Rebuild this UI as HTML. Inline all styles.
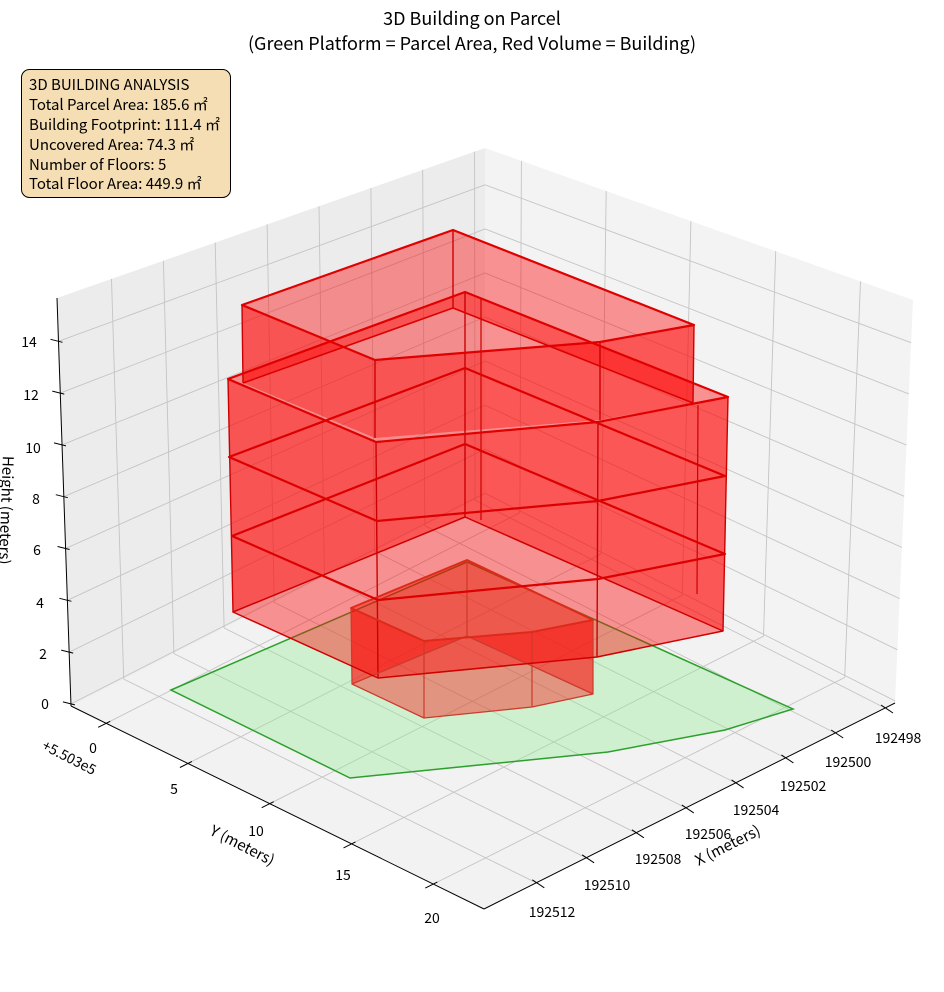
<!DOCTYPE html>
<html><head><meta charset="utf-8"><style>
body{margin:0;background:#fff;}
svg{display:block;font-family:"Noto Sans CJK JP","Liberation Sans",sans-serif;}
</style></head><body>
<svg id="s" width="944" height="992" viewBox="0 0 944 992" xmlns="http://www.w3.org/2000/svg">
<g id="panes"></g>
<g id="grid" stroke="#c4c4c4" stroke-width="0.9" fill="none"></g>
<g id="axes" stroke="#000" stroke-width="1" fill="none"></g>
<g id="labels" font-size="14" fill="#000"></g>
<g id="bld"></g>
<g id="rings"></g>
<text x="472" y="25" font-size="18" text-anchor="middle">3D Building on Parcel</text>
<text x="472" y="50" font-size="18" text-anchor="middle">(Green Platform = Parcel Area, Red Volume = Building)</text>
<rect x="21.5" y="69.5" width="209" height="128" rx="8" fill="#f5deb3" stroke="#000" stroke-width="1"/>
<g font-size="15" fill="#000">
<text x="29" y="90">3D BUILDING ANALYSIS</text>
<text x="29" y="110">Total Parcel Area: 185.6 ㎡</text>
<text x="29" y="130">Building Footprint: 111.4 ㎡</text>
<text x="29" y="150">Uncovered Area: 74.3 ㎡</text>
<text x="29" y="170">Number of Floors: 5</text>
<text x="29" y="189">Total Floor Area: 449.9 ㎡</text>
</g>
</svg>
<script>
const NS="http://www.w3.org/2000/svg";
function el(p,t,a,txt){const e=document.createElementNS(NS,t);for(const k in a)e.setAttribute(k,a[k]);if(txt!==undefined)e.textContent=txt;p.appendChild(e);return e;}
const Pb=[485,495],Pl=[71,706],Pr=[895,703],Pf=[484,909];
const Vb=[0,-347],Vl=[-14,-408],Vr=[18,-403],Vf=[0,-460];
function bil(A,B,C,D,a,b){return[0,1].map(i=>A[i]*(1-a)*(1-b)+B[i]*a*(1-b)+C[i]*(1-a)*b+D[i]*a*b);}
function P(a,b,c){const p=bil(Pb,Pl,Pr,Pf,a,b),v=bil(Vb,Vl,Vr,Vf,a,b);return[p[0]+c*v[0],p[1]+c*v[1]];}
const Xmin=192497.6,Xr=16.5,Ymin=-2.15,Yr=25.25,Zmin=-0.08,Zr=15.75;
const ax=x=>(x-Xmin)/Xr, by=y=>(y-Ymin)/Yr, cz=z=>(z-Zmin)/Zr;
const pts=a=>a.map(p=>p.map(v=>v.toFixed(1)).join(',')).join(' ');
const panes=document.getElementById('panes');
el(panes,'polygon',{points:pts([P(0,0,0),P(1,0,0),P(1,0,1),P(0,0,1)]),fill:'#ececec'});
el(panes,'polygon',{points:pts([P(0,0,0),P(0,1,0),P(0,1,1),P(0,0,1)]),fill:'#f3f3f3'});
el(panes,'polygon',{points:pts([P(0,0,0),P(1,0,0),P(1,1,0),P(0,1,0)]),fill:'#f2f2f2'});
const g=document.getElementById('grid');
function line(p,q,par){el(par||g,'line',{x1:p[0].toFixed(1),y1:p[1].toFixed(1),x2:q[0].toFixed(1),y2:q[1].toFixed(1)});}
const XT=[192498,192500,192502,192504,192506,192508,192510,192512],YT=[0,5,10,15,20],ZT=[0,2,4,6,8,10,12,14];
XT.forEach(x=>{const a=ax(x);line(P(a,0,0),P(a,1,0));line(P(a,0,0),P(a,0,1));});
YT.forEach(y=>{const b=by(y);line(P(0,b,0),P(1,b,0));line(P(0,b,0),P(0,b,1));});
ZT.forEach(z=>{const c=cz(z);line(P(0,0,c),P(1,0,c));line(P(0,0,c),P(0,1,c));});
const A=document.getElementById('axes');
line(P(1,0,0),P(1,1,0),A);line(P(0,1,0),P(1,1,0),A);line(P(1,0,0),P(1,0,1),A);
XT.forEach(x=>{const p=P(ax(x),1,0);line([p[0]-4,p[1]-3],[p[0]+8,p[1]+5],A);});
YT.forEach(y=>{const p=P(1,by(y),0);line([p[0]+4,p[1]-2],[p[0]-8,p[1]+4],A);});
ZT.forEach(z=>{const p=P(1,0,cz(z));line([p[0]+4,p[1]+1],[p[0]-8,p[1]-2],A);});
const L=document.getElementById('labels');
[[898,738],[848,762],[803,786],[756,810],[708,834],[658,859],[607,885],[552,912]].forEach((q,i)=>el(L,'text',{x:q[0],y:q[1]+5,'text-anchor':'middle'},XT[i]));
[[93,748],[174,789],[256,831],[343,875],[432,918]].forEach((q,i)=>el(L,'text',{x:q[0],y:q[1]+5,'text-anchor':'middle'},YT[i]));
[[45,704],[43,654],[40,603],[37,550],[36,499],[33,448],[31,395],[29,342]].forEach((q,i)=>el(L,'text',{x:q[0],y:q[1]+5,'text-anchor':'middle'},ZT[i]));
el(L,'text',{x:0,y:0,'font-size':15,'text-anchor':'middle',transform:'translate(240,850) rotate(27)'},'Y (meters)');
el(L,'text',{x:0,y:0,'font-size':15,'text-anchor':'middle',transform:'translate(730,850) rotate(-27)'},'X (meters)');
el(L,'text',{x:0,y:0,'font-size':15,'text-anchor':'middle',transform:'translate(1,510) rotate(92)'},'Height (meters)');
el(L,'text',{x:0,y:0,'font-size':14,'text-anchor':'middle',transform:'translate(67,762) rotate(27)'},'+5.503e5');

const B=document.getElementById('bld'),R=document.getElementById('rings');
el(B,'polygon',{points:'171,690 467,562 793,709 725,730 608,752 350,778',fill:'rgba(144,238,144,0.35)',stroke:'#2ca02c','stroke-width':1.5});
function prism(T,Bm,op,ec,ew){
  for(let i=0;i<5;i++){const j=(i+1)%5;el(B,'polygon',{points:pts([T[i],T[j],Bm[j],Bm[i]]),fill:'#ff0000','fill-opacity':op,stroke:'none'});}
  const gg=el(R,'g',{stroke:ec,'stroke-width':ew});
  for(let i=0;i<5;i++)line(T[i],Bm[i],gg);
}
function ring(V,c,w){el(R,'polygon',{points:pts(V),fill:'none',stroke:c,'stroke-width':w,'stroke-linejoin':'round'});}
const GT=[[351,608],[467,560],[593,620],[532,632],[424,641]],GB=[[352,684],[467,636],[593,694],[532,707],[424,718]];
prism(GT,GB,0.38,'#cc3b2b',1.2);
const l12=[[228,379],[465,292],[728,397],[598,422],[376,442]],l9=[[229,457],[465,368],[725,476],[598,501],[377,521]],
l6=[[232,536],[465,444],[725,554],[598,579],[378,600]],l3=[[233,612],[465,517],[723,631],[597,657],[378,678]];
prism(l12,l3,0.4,'#cc0000',1.4);
const t15=[[242,305],[453,230],[694,325],[600,342],[375,360]],t12=[[243,383],[453,308],[693,403],[600,420],[375,438]];
prism(t15,t12,0.4,'#cc0000',1.4);
const vg=el(R,'g',{stroke:'#cc0000','stroke-width':1.2});
line([481,298],[481,520],vg);line([698,405],[697,594],vg);
ring(GB,'#cc3b2b',1.3);ring(GT,'#dd2a1a',2);
ring(l3,'#d00000',1.5);ring(l6,'#dd0000',2.2);ring(l9,'#dd0000',2.2);ring(l12,'#e00000',2.2);
el(R,'polyline',{points:pts([t12[0],t12[1],t12[2]]),fill:'none',stroke:'#dd0000','stroke-width':1.6});
ring(t15,'#e00000',2.2);
</script>
</body></html>
